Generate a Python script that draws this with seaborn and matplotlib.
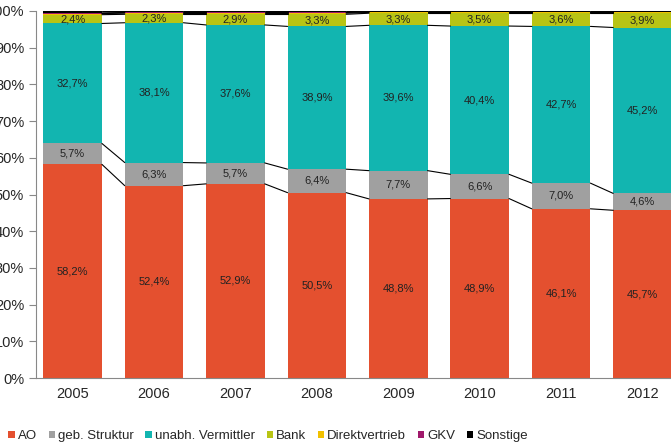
import matplotlib
matplotlib.use("Agg")
import matplotlib.pyplot as plt
import seaborn as sns
import numpy as np

sns.set_style("white")
plt.rcParams['font.family'] = ['Liberation Sans', 'DejaVu Sans']

years = ["2005", "2006", "2007", "2008", "2009", "2010", "2011", "2012"]
ao = [58.2, 52.4, 52.9, 50.5, 48.8, 48.9, 46.1, 45.7]
geb = [5.7, 6.3, 5.7, 6.4, 7.7, 6.6, 7.0, 4.6]
unabh = [32.7, 38.1, 37.6, 38.9, 39.6, 40.4, 42.7, 45.2]
bank = [2.4, 2.3, 2.9, 3.3, 3.3, 3.5, 3.6, 3.9]
direkt = [0.3, 0.3, 0.3, 0.3, 0.2, 0.2, 0.2, 0.2]
gkv = [0.2, 0.2, 0.2, 0.2, 0.1, 0.1, 0.1, 0.1]
sonst = [0.5, 0.4, 0.4, 0.4, 0.3, 0.3, 0.3, 0.3]

series = [("AO", ao, "#E4502F"), ("geb. Struktur", geb, "#A0A0A0"),
          ("unabh. Vermittler", unabh, "#12B5B0"), ("Bank", bank, "#B8C414"),
          ("Direktvertrieb", direkt, "#F2C100"), ("GKV", gkv, "#A0196B"),
          ("Sonstige", sonst, "#000000")]

fig = plt.figure(figsize=(6.71, 4.47), dpi=100)
ax = fig.add_axes([36/671, 1-378/447, 1-36/671, (378-11)/447])
x = np.arange(len(years))
w = 0.72
bottom = np.zeros(len(years))
tops = []
for name, vals, col in series:
    v = np.array(vals)
    ax.bar(x, v, w, bottom=bottom, color=col, label=name, linewidth=0)
    if name in ("AO", "geb. Struktur", "unabh. Vermittler", "Bank"):
        for xi, b, vi in zip(x, bottom, v):
            ax.text(xi, b + vi/2, f"{vi:.1f}%".replace(".", ","), ha="center",
                    va="center", fontsize=8, color="#222222")
    bottom = bottom + v
    tops.append(bottom.copy())
for t in tops:
    for i in range(len(years)-1):
        ax.plot([x[i]+w/2, x[i+1]-w/2], [t[i], t[i+1]], color="black", lw=0.8)

ax.set_xlim(-0.45, 7.35)
ax.set_ylim(0, 100)
ax.set_yticks(range(0, 101, 10))
ax.set_yticklabels([f"{v}%" for v in range(0, 101, 10)], fontsize=10.5)
ax.set_xticks(x)
ax.set_xticklabels(years, fontsize=10.5)
ax.tick_params(axis="y", left=True, length=5, color="#888888")
ax.tick_params(axis="x", bottom=False, pad=3)
for s in ("top", "right"):
    ax.spines[s].set_visible(False)
ax.spines["left"].set_color("#888888")
ax.spines["bottom"].set_color("#888888")
fig.legend(loc="center", bbox_to_anchor=(268/671, 1-436/447), ncol=7, frameon=False,
           fontsize=9.5, handlelength=0.5, handleheight=0.5, handletextpad=0.2, columnspacing=0.9)
fig.savefig("out.png", dpi=100)
